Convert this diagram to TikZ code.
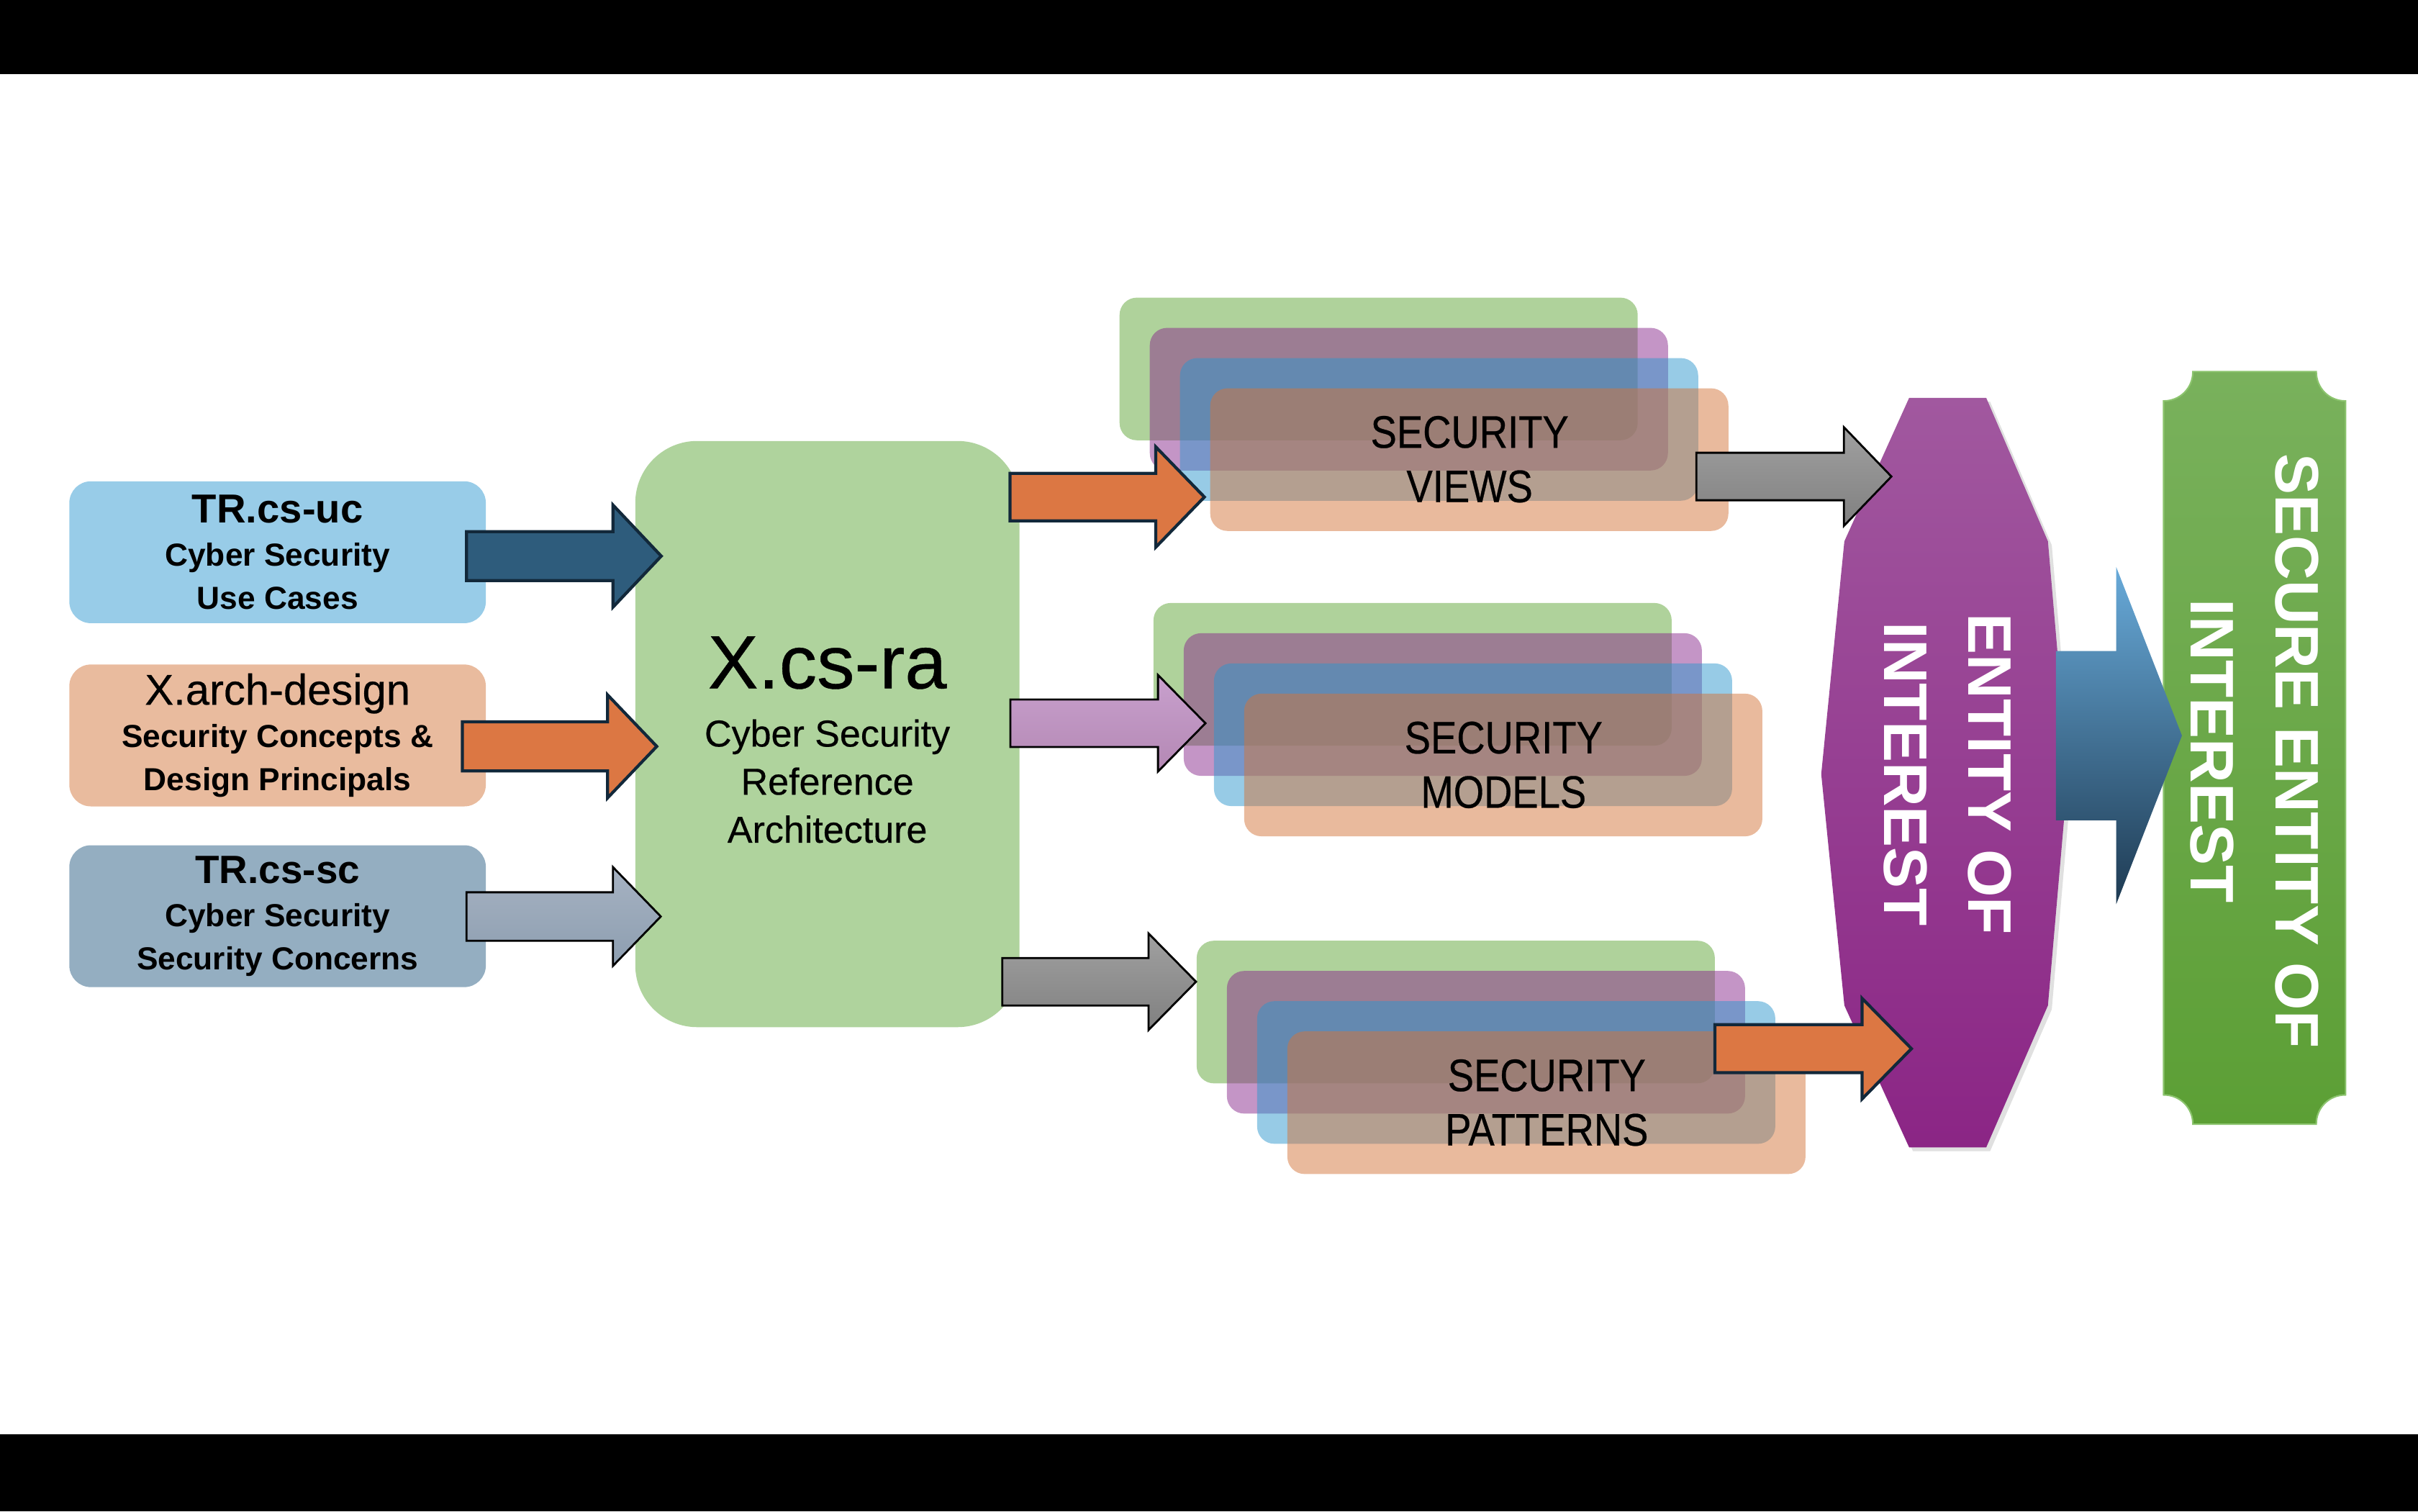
\documentclass[tikz,border=0pt]{standalone}
\usepackage{fontspec}
\setmainfont{Liberation Sans}
\newfontfamily\narrowsans[FakeStretch=0.86,FakeBold=0.4]{Liberation Sans}
\newfontfamily\medsans[FakeBold=0.4]{Liberation Sans}

\definecolor{ucblue}{RGB}{152,204,232}
\definecolor{archpeach}{RGB}{233,187,158}
\definecolor{scslate}{RGB}{148,174,193}
\definecolor{ragreen}{RGB}{175,211,157}
\definecolor{secgreen}{RGB}{95,165,55}
\definecolor{secpurple}{RGB}{137,43,141}
\definecolor{secblue}{RGB}{47,151,205}
\definecolor{secorange}{RGB}{211,117,59}
\definecolor{arrowblue}{RGB}{46,92,124}
\definecolor{arroworange}{RGB}{220,119,67}
\definecolor{arrowedge}{RGB}{18,40,58}
\definecolor{eoitop}{RGB}{161,88,159}
\definecolor{eoibot}{RGB}{139,37,133}
\definecolor{seoitop}{RGB}{121,177,92}
\definecolor{seoibot}{RGB}{92,159,53}
\definecolor{seoiedge}{RGB}{140,196,110}

\usetikzlibrary{positioning}

% block arrow: [style]{tail x}{head base x}{tip x}{centre y}{half shaft}{half head}
\newcommand{\blockarrow}[7][]{%
  \path[#1] (#2,{#5-#6}) -- (#3,{#5-#6}) -- (#3,{#5-#7}) -- (#4,#5)
    -- (#3,{#5+#7}) -- (#3,{#5+#6}) -- (#2,{#5+#6}) -- cycle;}

\tikzset{
  srcbox/.style={minimum width=5.786cm, minimum height=1.971cm, rounded corners=0.3cm,
    inner sep=0pt, align=center, font=\fontsize{12.6}{17}\selectfont\bfseries},
  rabox/.style={fill=ragreen, minimum width=5.336cm, minimum height=8.143cm,
    rounded corners=0.86cm, inner sep=0pt},
  ratext/.style={align=center, font=\medsans\fontsize{14.8}{19}\selectfont},
  layer/.style={rounded corners=0.24cm, fill opacity=0.5},
  sectext/.style={align=center, font=\narrowsans\fontsize{18}{21.5}\selectfont},
  eoitext/.style={align=center, text=white, rotate=-90,
    font=\bfseries\fontsize{24.3}{33.4}\selectfont},
  darkarrow/.style={fill=arrowblue, draw=arrowedge, line width=1.2pt},
  orangearrow/.style={fill=arroworange, draw=arrowedge, line width=1.2pt},
  slatearrow/.style={top color={rgb,255:red,166;green,178;blue,194},
    bottom color={rgb,255:red,141;green,158;blue,176}, draw=black, line width=0.8pt},
  pinkarrow/.style={top color={rgb,255:red,200;green,160;blue,205},
    bottom color={rgb,255:red,180;green,136;blue,180}, draw=black, line width=0.8pt},
  greyarrow/.style={top color={rgb,255:red,160;green,160;blue,160},
    bottom color={rgb,255:red,128;green,128;blue,128}, draw=black, line width=0.8pt},
  bigarrow/.style={top color={rgb,255:red,104;green,170;blue,217},
    bottom color={rgb,255:red,30;green,58;blue,82}}
}

\begin{document}
\begin{tikzpicture}[x=0.021429cm, y=-0.021429cm]
  \useasboundingbox (0,0) rectangle (1568,980);
  \fill[black] (0,0) rectangle (1568,48);
  \fill[black] (0,930) rectangle (1568,980);

  % inputs
  \node[srcbox, fill=ucblue] (uc) at (180,358.1)
    {{\fontsize{16}{17}\selectfont TR.cs-uc}\\Cyber Security\\Use Cases};
  \node[srcbox, fill=archpeach] (arch) at (180,476.9)
    {{\medsans\mdseries\fontsize{17}{17}\selectfont X.arch-design}\\Security Concepts \&\\Design Principals};
  \node[srcbox, fill=scslate] (sc) at (180,594.1)
    {{\fontsize{15.6}{17}\selectfont TR.cs-sc}\\Cyber Security\\Security Concerns};

  % reference architecture
  \node[rabox] (ra) at (536.5,476) {};
  \node[ratext] (ralabel) at (536.5,479.7)
    {{\fontsize{29.8}{19}\selectfont X.cs-ra}\\[4pt]Cyber Security\\Reference\\Architecture};

  % stacked outputs
  \foreach \sx/\sy in {726/193, 748/391, 776/610}
    \foreach \c [count=\i from 0] in {secgreen,secpurple,secblue,secorange}
      \fill[layer, fill=\c] ({\sx+19.6*\i},{\sy+19.6*\i}) rectangle +(336,92.5);
  \node[sectext] (views) at (953,297.8) {SECURITY\\VIEWS};
  \node[sectext] (models) at (975,496) {SECURITY\\MODELS};
  \node[sectext] (patterns) at (1003,715) {SECURITY\\PATTERNS};

  % entity of interest
  \fill[black, opacity=0.12, shift={(2.5,2.5)}] (1238,258) -- (1288,258) -- (1328,351)
    -- (1341,502) -- (1328,652) -- (1288,744) -- (1238,744) -- (1196,652) -- (1181,502)
    -- (1196,351) -- cycle;
  \shade[top color=eoitop, bottom color=eoibot] (1238,258) -- (1288,258) -- (1328,351)
    -- (1341,502) -- (1328,652) -- (1288,744) -- (1238,744) -- (1196,652) -- (1181,502)
    -- (1196,351) -- cycle;
  \node[eoitext] (eoi) at (1263,502) {ENTITY OF\\INTEREST};

  % secure entity of interest
  \shadedraw[top color=seoitop, bottom color=seoibot, draw=seoiedge, line width=0.6pt]
    (1422,241) -- (1502,241) .. controls (1502,251.7) and (1510.3,260) .. (1521,260)
    -- (1521,710) .. controls (1510.3,710) and (1502,718.3) .. (1502,729)
    -- (1422,729) .. controls (1422,718.3) and (1413.7,710) .. (1403,710)
    -- (1403,260) .. controls (1413.7,260) and (1422,251.7) .. (1422,241) -- cycle;
  \node[eoitext] (seoi) at (1462,487) {SECURE ENTITY OF\\INTEREST};

  % arrows
  \blockarrow[darkarrow]{302.5}{397.5}{428.8}{360.6}{15.9}{33.1}
  \blockarrow[orangearrow]{299.8}{394}{425.9}{484}{15.9}{33.4}
  \blockarrow[slatearrow]{302.5}{397.5}{428.5}{594.3}{15.7}{32}
  \blockarrow[orangearrow]{655}{749.5}{781}{322.3}{15.4}{32.5}
  \blockarrow[pinkarrow]{655.2}{750.9}{781.7}{469}{15.4}{31.3}
  \blockarrow[greyarrow]{649.9}{744.8}{775.6}{636.6}{15.4}{31.3}
  \blockarrow[greyarrow]{1100}{1195.7}{1226.5}{309}{15.4}{32}
  \blockarrow[orangearrow]{1112}{1207.5}{1239.5}{680}{15.6}{32.6}
  \blockarrow[bigarrow]{1333.2}{1372.3}{1414.9}{477}{54.9}{109.3}
\end{tikzpicture}
\end{document}
